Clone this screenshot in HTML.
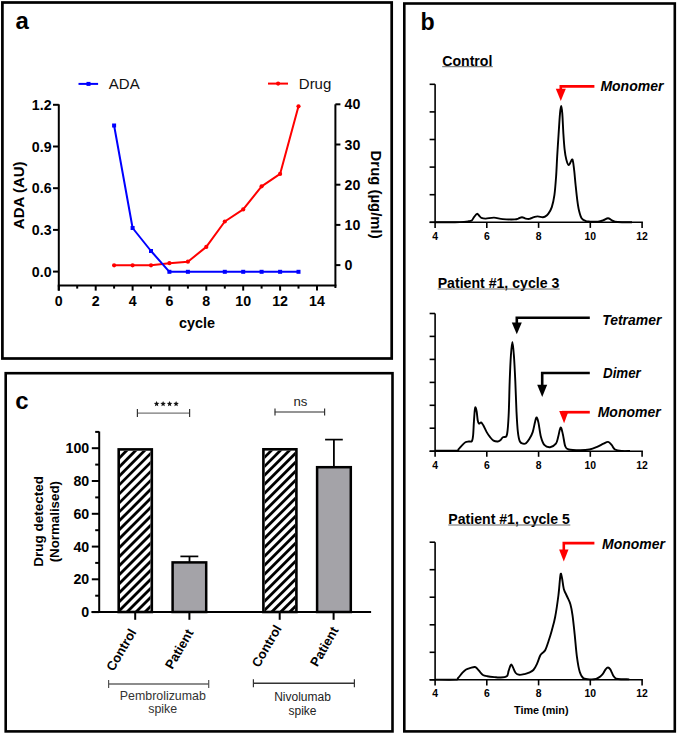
<!DOCTYPE html>
<html><head><meta charset="utf-8"><style>
html,body{margin:0;padding:0;background:#fff;}
svg{display:block;}
text{font-family:"Liberation Sans",sans-serif;}
</style></head><body>
<svg width="677" height="734" viewBox="0 0 677 734">
<rect width="677" height="734" fill="#fff"/>
<defs><clipPath id="clip1"><rect x="120.0" y="450.7" width="30.5" height="161.3"/></clipPath><clipPath id="clip2"><rect x="264.7" y="450.6" width="30.4" height="161.4"/></clipPath></defs>
<rect x="2.4" y="2.5" width="389.3" height="356" fill="none" stroke="#000" stroke-width="2.7"/>
<rect x="404.3" y="3.5" width="270.5" height="727.9" fill="none" stroke="#000" stroke-width="2.6"/>
<rect x="5.7" y="373.2" width="386.8" height="358.2" fill="none" stroke="#000" stroke-width="2.6"/>
<text x="15.6" y="29.3" font-size="24" font-weight="bold" font-family="Liberation Sans, sans-serif">a</text>
<text x="420.6" y="29.8" font-size="23.2" font-weight="bold" font-family="Liberation Sans, sans-serif">b</text>
<text x="15.2" y="408.6" font-size="24" font-weight="bold" font-family="Liberation Sans, sans-serif">c</text>
<line x1="58.8" y1="104.3" x2="58.8" y2="290.6" stroke="#000" stroke-width="2"/>
<line x1="53" y1="104.8" x2="58.8" y2="104.8" stroke="#000" stroke-width="2"/>
<text x="51.6" y="109.8" text-anchor="end" font-size="14.2" font-weight="bold" font-family="Liberation Sans, sans-serif">1.2</text>
<line x1="53" y1="146.5" x2="58.8" y2="146.5" stroke="#000" stroke-width="2"/>
<text x="51.6" y="151.5" text-anchor="end" font-size="14.2" font-weight="bold" font-family="Liberation Sans, sans-serif">0.9</text>
<line x1="53" y1="188.2" x2="58.8" y2="188.2" stroke="#000" stroke-width="2"/>
<text x="51.6" y="193.2" text-anchor="end" font-size="14.2" font-weight="bold" font-family="Liberation Sans, sans-serif">0.6</text>
<line x1="53" y1="229.9" x2="58.8" y2="229.9" stroke="#000" stroke-width="2"/>
<text x="51.6" y="234.9" text-anchor="end" font-size="14.2" font-weight="bold" font-family="Liberation Sans, sans-serif">0.3</text>
<line x1="53" y1="271.6" x2="58.8" y2="271.6" stroke="#000" stroke-width="2"/>
<text x="51.6" y="276.6" text-anchor="end" font-size="14.2" font-weight="bold" font-family="Liberation Sans, sans-serif">0.0</text>
<line x1="57.8" y1="285.4" x2="336.40000000000003" y2="285.4" stroke="#000" stroke-width="2"/>
<line x1="58.8" y1="285.4" x2="58.8" y2="290.6" stroke="#000" stroke-width="2"/>
<text x="58.8" y="306.0" text-anchor="middle" font-size="14.2" font-weight="bold" font-family="Liberation Sans, sans-serif">0</text>
<line x1="77.2" y1="285.4" x2="77.2" y2="288.6" stroke="#000" stroke-width="2"/>
<line x1="95.7" y1="285.4" x2="95.7" y2="290.6" stroke="#000" stroke-width="2"/>
<text x="95.7" y="306.0" text-anchor="middle" font-size="14.2" font-weight="bold" font-family="Liberation Sans, sans-serif">2</text>
<line x1="114.1" y1="285.4" x2="114.1" y2="288.6" stroke="#000" stroke-width="2"/>
<line x1="132.6" y1="285.4" x2="132.6" y2="290.6" stroke="#000" stroke-width="2"/>
<text x="132.6" y="306.0" text-anchor="middle" font-size="14.2" font-weight="bold" font-family="Liberation Sans, sans-serif">4</text>
<line x1="151.0" y1="285.4" x2="151.0" y2="288.6" stroke="#000" stroke-width="2"/>
<line x1="169.4" y1="285.4" x2="169.4" y2="290.6" stroke="#000" stroke-width="2"/>
<text x="169.4" y="306.0" text-anchor="middle" font-size="14.2" font-weight="bold" font-family="Liberation Sans, sans-serif">6</text>
<line x1="187.9" y1="285.4" x2="187.9" y2="288.6" stroke="#000" stroke-width="2"/>
<line x1="206.3" y1="285.4" x2="206.3" y2="290.6" stroke="#000" stroke-width="2"/>
<text x="206.3" y="306.0" text-anchor="middle" font-size="14.2" font-weight="bold" font-family="Liberation Sans, sans-serif">8</text>
<line x1="224.8" y1="285.4" x2="224.8" y2="288.6" stroke="#000" stroke-width="2"/>
<line x1="243.2" y1="285.4" x2="243.2" y2="290.6" stroke="#000" stroke-width="2"/>
<text x="243.2" y="306.0" text-anchor="middle" font-size="14.2" font-weight="bold" font-family="Liberation Sans, sans-serif">10</text>
<line x1="261.6" y1="285.4" x2="261.6" y2="288.6" stroke="#000" stroke-width="2"/>
<line x1="280.1" y1="285.4" x2="280.1" y2="290.6" stroke="#000" stroke-width="2"/>
<text x="280.1" y="306.0" text-anchor="middle" font-size="14.2" font-weight="bold" font-family="Liberation Sans, sans-serif">12</text>
<line x1="298.5" y1="285.4" x2="298.5" y2="288.6" stroke="#000" stroke-width="2"/>
<line x1="317.0" y1="285.4" x2="317.0" y2="290.6" stroke="#000" stroke-width="2"/>
<text x="317.0" y="306.0" text-anchor="middle" font-size="14.2" font-weight="bold" font-family="Liberation Sans, sans-serif">14</text>
<text x="196.9" y="328.4" text-anchor="middle" font-size="14.4" font-weight="bold" font-family="Liberation Sans, sans-serif">cycle</text>
<line x1="335.4" y1="104.3" x2="335.4" y2="288" stroke="#000" stroke-width="2"/>
<line x1="335.4" y1="104.3" x2="340.4" y2="104.3" stroke="#000" stroke-width="2"/>
<text x="344.6" y="109.3" font-size="14.2" font-weight="bold" font-family="Liberation Sans, sans-serif">40</text>
<line x1="335.4" y1="144.5" x2="340.4" y2="144.5" stroke="#000" stroke-width="2"/>
<text x="344.6" y="149.5" font-size="14.2" font-weight="bold" font-family="Liberation Sans, sans-serif">30</text>
<line x1="335.4" y1="184.7" x2="340.4" y2="184.7" stroke="#000" stroke-width="2"/>
<text x="344.6" y="189.7" font-size="14.2" font-weight="bold" font-family="Liberation Sans, sans-serif">20</text>
<line x1="335.4" y1="224.9" x2="340.4" y2="224.9" stroke="#000" stroke-width="2"/>
<text x="344.6" y="229.9" font-size="14.2" font-weight="bold" font-family="Liberation Sans, sans-serif">10</text>
<line x1="335.4" y1="265.1" x2="340.4" y2="265.1" stroke="#000" stroke-width="2"/>
<text x="344.6" y="270.1" font-size="14.2" font-weight="bold" font-family="Liberation Sans, sans-serif">0</text>
<text transform="translate(24.2,195.3) rotate(-90)" text-anchor="middle" font-size="15" font-weight="bold" font-family="Liberation Sans, sans-serif">ADA (AU)</text>
<text transform="translate(371,194.6) rotate(90)" text-anchor="middle" font-size="14.9" font-weight="bold" font-family="Liberation Sans, sans-serif">Drug (µg/ml)</text>
<line x1="78.5" y1="83.9" x2="98.1" y2="83.9" stroke="#0000ff" stroke-width="2"/>
<rect x="86.5" y="81.9" width="4" height="4" fill="#0000ff"/>
<text x="108.8" y="88.6" font-size="15" font-family="Liberation Sans, sans-serif" fill="#111">ADA</text>
<line x1="268" y1="83.6" x2="288" y2="83.6" stroke="#ff0000" stroke-width="2"/>
<circle cx="278.1" cy="83.6" r="2.1" fill="#ff0000"/>
<text x="298.8" y="88.6" font-size="15" font-family="Liberation Sans, sans-serif" fill="#111">Drug</text>
<polyline points="114.1,265.3 132.6,265.3 151.0,265.3 169.4,263.2 187.9,261.7 206.3,246.9 224.8,221.5 243.2,209.4 261.6,186.3 280.1,173.9 298.5,106.3" fill="none" stroke="#ff0000" stroke-width="2" stroke-linejoin="round"/>
<polyline points="114.1,125.5 132.6,228.0 151.0,251.0 169.4,271.8 187.9,271.8 206.3,271.8 224.8,271.8 243.2,271.8 261.6,271.8 280.1,271.8 298.5,271.8" fill="none" stroke="#0000ff" stroke-width="2" stroke-linejoin="round"/>
<circle cx="114.1" cy="265.3" r="2.1" fill="#ff0000"/>
<circle cx="132.6" cy="265.3" r="2.1" fill="#ff0000"/>
<circle cx="151.0" cy="265.3" r="2.1" fill="#ff0000"/>
<circle cx="169.4" cy="263.2" r="2.1" fill="#ff0000"/>
<circle cx="187.9" cy="261.7" r="2.1" fill="#ff0000"/>
<circle cx="206.3" cy="246.9" r="2.1" fill="#ff0000"/>
<circle cx="224.8" cy="221.5" r="2.1" fill="#ff0000"/>
<circle cx="243.2" cy="209.4" r="2.1" fill="#ff0000"/>
<circle cx="261.6" cy="186.3" r="2.1" fill="#ff0000"/>
<circle cx="280.1" cy="173.9" r="2.1" fill="#ff0000"/>
<circle cx="298.5" cy="106.3" r="2.1" fill="#ff0000"/>
<rect x="112.1" y="123.5" width="4" height="4" fill="#0000ff"/>
<rect x="130.6" y="226.0" width="4" height="4" fill="#0000ff"/>
<rect x="149.0" y="249.0" width="4" height="4" fill="#0000ff"/>
<rect x="167.4" y="269.8" width="4" height="4" fill="#0000ff"/>
<rect x="185.9" y="269.8" width="4" height="4" fill="#0000ff"/>
<rect x="222.8" y="269.8" width="4" height="4" fill="#0000ff"/>
<rect x="241.2" y="269.8" width="4" height="4" fill="#0000ff"/>
<rect x="259.6" y="269.8" width="4" height="4" fill="#0000ff"/>
<rect x="278.1" y="269.8" width="4" height="4" fill="#0000ff"/>
<rect x="296.5" y="269.8" width="4" height="4" fill="#0000ff"/>
<line x1="99.2" y1="431.5" x2="99.2" y2="612" stroke="#000" stroke-width="2"/>
<line x1="91.8" y1="612.1" x2="99.2" y2="612.1" stroke="#000" stroke-width="2"/>
<text x="89.2" y="617.1" text-anchor="end" font-size="14.2" font-weight="bold" font-family="Liberation Sans, sans-serif">0</text>
<line x1="95.2" y1="595.7" x2="99.2" y2="595.7" stroke="#000" stroke-width="2"/>
<line x1="91.8" y1="579.3" x2="99.2" y2="579.3" stroke="#000" stroke-width="2"/>
<text x="89.2" y="584.3" text-anchor="end" font-size="14.2" font-weight="bold" font-family="Liberation Sans, sans-serif">20</text>
<line x1="95.2" y1="562.9" x2="99.2" y2="562.9" stroke="#000" stroke-width="2"/>
<line x1="91.8" y1="546.6" x2="99.2" y2="546.6" stroke="#000" stroke-width="2"/>
<text x="89.2" y="551.6" text-anchor="end" font-size="14.2" font-weight="bold" font-family="Liberation Sans, sans-serif">40</text>
<line x1="95.2" y1="530.2" x2="99.2" y2="530.2" stroke="#000" stroke-width="2"/>
<line x1="91.8" y1="513.8" x2="99.2" y2="513.8" stroke="#000" stroke-width="2"/>
<text x="89.2" y="518.8" text-anchor="end" font-size="14.2" font-weight="bold" font-family="Liberation Sans, sans-serif">60</text>
<line x1="95.2" y1="497.4" x2="99.2" y2="497.4" stroke="#000" stroke-width="2"/>
<line x1="91.8" y1="481.0" x2="99.2" y2="481.0" stroke="#000" stroke-width="2"/>
<text x="89.2" y="486.0" text-anchor="end" font-size="14.2" font-weight="bold" font-family="Liberation Sans, sans-serif">80</text>
<line x1="95.2" y1="464.6" x2="99.2" y2="464.6" stroke="#000" stroke-width="2"/>
<line x1="91.8" y1="448.2" x2="99.2" y2="448.2" stroke="#000" stroke-width="2"/>
<text x="89.2" y="453.2" text-anchor="end" font-size="14.2" font-weight="bold" font-family="Liberation Sans, sans-serif">100</text>
<line x1="95.2" y1="431.9" x2="99.2" y2="431.9" stroke="#000" stroke-width="2"/>
<text transform="translate(43.2,521.4) rotate(-90)" text-anchor="middle" font-size="13.5" font-weight="bold" font-family="Liberation Sans, sans-serif">Drug detected</text>
<text transform="translate(59.2,521.7) rotate(-90)" text-anchor="middle" font-size="13.3" font-weight="bold" font-family="Liberation Sans, sans-serif">(Normalised)</text>
<g clip-path="url(#clip1)"><line x1="-159.70" y1="620" x2="30.30" y2="430" stroke="#000" stroke-width="2.8"/><line x1="-150.71" y1="620" x2="39.29" y2="430" stroke="#000" stroke-width="2.8"/><line x1="-141.72" y1="620" x2="48.28" y2="430" stroke="#000" stroke-width="2.8"/><line x1="-132.73" y1="620" x2="57.27" y2="430" stroke="#000" stroke-width="2.8"/><line x1="-123.74" y1="620" x2="66.26" y2="430" stroke="#000" stroke-width="2.8"/><line x1="-114.75" y1="620" x2="75.25" y2="430" stroke="#000" stroke-width="2.8"/><line x1="-105.76" y1="620" x2="84.24" y2="430" stroke="#000" stroke-width="2.8"/><line x1="-96.77" y1="620" x2="93.23" y2="430" stroke="#000" stroke-width="2.8"/><line x1="-87.78" y1="620" x2="102.22" y2="430" stroke="#000" stroke-width="2.8"/><line x1="-78.79" y1="620" x2="111.21" y2="430" stroke="#000" stroke-width="2.8"/><line x1="-69.80" y1="620" x2="120.20" y2="430" stroke="#000" stroke-width="2.8"/><line x1="-60.81" y1="620" x2="129.19" y2="430" stroke="#000" stroke-width="2.8"/><line x1="-51.82" y1="620" x2="138.18" y2="430" stroke="#000" stroke-width="2.8"/><line x1="-42.83" y1="620" x2="147.17" y2="430" stroke="#000" stroke-width="2.8"/><line x1="-33.84" y1="620" x2="156.16" y2="430" stroke="#000" stroke-width="2.8"/><line x1="-24.85" y1="620" x2="165.15" y2="430" stroke="#000" stroke-width="2.8"/><line x1="-15.86" y1="620" x2="174.14" y2="430" stroke="#000" stroke-width="2.8"/><line x1="-6.87" y1="620" x2="183.13" y2="430" stroke="#000" stroke-width="2.8"/><line x1="2.12" y1="620" x2="192.12" y2="430" stroke="#000" stroke-width="2.8"/><line x1="11.11" y1="620" x2="201.11" y2="430" stroke="#000" stroke-width="2.8"/><line x1="20.10" y1="620" x2="210.10" y2="430" stroke="#000" stroke-width="2.8"/><line x1="29.09" y1="620" x2="219.09" y2="430" stroke="#000" stroke-width="2.8"/><line x1="38.08" y1="620" x2="228.08" y2="430" stroke="#000" stroke-width="2.8"/><line x1="47.07" y1="620" x2="237.07" y2="430" stroke="#000" stroke-width="2.8"/><line x1="56.06" y1="620" x2="246.06" y2="430" stroke="#000" stroke-width="2.8"/><line x1="65.05" y1="620" x2="255.05" y2="430" stroke="#000" stroke-width="2.8"/><line x1="74.04" y1="620" x2="264.04" y2="430" stroke="#000" stroke-width="2.8"/><line x1="83.03" y1="620" x2="273.03" y2="430" stroke="#000" stroke-width="2.8"/><line x1="92.02" y1="620" x2="282.02" y2="430" stroke="#000" stroke-width="2.8"/><line x1="101.01" y1="620" x2="291.01" y2="430" stroke="#000" stroke-width="2.8"/><line x1="110.00" y1="620" x2="300.00" y2="430" stroke="#000" stroke-width="2.8"/><line x1="118.99" y1="620" x2="308.99" y2="430" stroke="#000" stroke-width="2.8"/><line x1="127.98" y1="620" x2="317.98" y2="430" stroke="#000" stroke-width="2.8"/><line x1="136.97" y1="620" x2="326.97" y2="430" stroke="#000" stroke-width="2.8"/><line x1="145.96" y1="620" x2="335.96" y2="430" stroke="#000" stroke-width="2.8"/><line x1="154.95" y1="620" x2="344.95" y2="430" stroke="#000" stroke-width="2.8"/></g><rect x="118.7" y="449.4" width="33.1" height="162.6" fill="none" stroke="#000" stroke-width="2.6"/>
<g clip-path="url(#clip2)"><line x1="-15.00" y1="620" x2="175.00" y2="430" stroke="#000" stroke-width="2.8"/><line x1="-6.01" y1="620" x2="183.99" y2="430" stroke="#000" stroke-width="2.8"/><line x1="2.98" y1="620" x2="192.98" y2="430" stroke="#000" stroke-width="2.8"/><line x1="11.97" y1="620" x2="201.97" y2="430" stroke="#000" stroke-width="2.8"/><line x1="20.96" y1="620" x2="210.96" y2="430" stroke="#000" stroke-width="2.8"/><line x1="29.95" y1="620" x2="219.95" y2="430" stroke="#000" stroke-width="2.8"/><line x1="38.94" y1="620" x2="228.94" y2="430" stroke="#000" stroke-width="2.8"/><line x1="47.93" y1="620" x2="237.93" y2="430" stroke="#000" stroke-width="2.8"/><line x1="56.92" y1="620" x2="246.92" y2="430" stroke="#000" stroke-width="2.8"/><line x1="65.91" y1="620" x2="255.91" y2="430" stroke="#000" stroke-width="2.8"/><line x1="74.90" y1="620" x2="264.90" y2="430" stroke="#000" stroke-width="2.8"/><line x1="83.89" y1="620" x2="273.89" y2="430" stroke="#000" stroke-width="2.8"/><line x1="92.88" y1="620" x2="282.88" y2="430" stroke="#000" stroke-width="2.8"/><line x1="101.87" y1="620" x2="291.87" y2="430" stroke="#000" stroke-width="2.8"/><line x1="110.86" y1="620" x2="300.86" y2="430" stroke="#000" stroke-width="2.8"/><line x1="119.85" y1="620" x2="309.85" y2="430" stroke="#000" stroke-width="2.8"/><line x1="128.84" y1="620" x2="318.84" y2="430" stroke="#000" stroke-width="2.8"/><line x1="137.83" y1="620" x2="327.83" y2="430" stroke="#000" stroke-width="2.8"/><line x1="146.82" y1="620" x2="336.82" y2="430" stroke="#000" stroke-width="2.8"/><line x1="155.81" y1="620" x2="345.81" y2="430" stroke="#000" stroke-width="2.8"/><line x1="164.80" y1="620" x2="354.80" y2="430" stroke="#000" stroke-width="2.8"/><line x1="173.79" y1="620" x2="363.79" y2="430" stroke="#000" stroke-width="2.8"/><line x1="182.78" y1="620" x2="372.78" y2="430" stroke="#000" stroke-width="2.8"/><line x1="191.77" y1="620" x2="381.77" y2="430" stroke="#000" stroke-width="2.8"/><line x1="200.76" y1="620" x2="390.76" y2="430" stroke="#000" stroke-width="2.8"/><line x1="209.75" y1="620" x2="399.75" y2="430" stroke="#000" stroke-width="2.8"/><line x1="218.74" y1="620" x2="408.74" y2="430" stroke="#000" stroke-width="2.8"/><line x1="227.73" y1="620" x2="417.73" y2="430" stroke="#000" stroke-width="2.8"/><line x1="236.72" y1="620" x2="426.72" y2="430" stroke="#000" stroke-width="2.8"/><line x1="245.71" y1="620" x2="435.71" y2="430" stroke="#000" stroke-width="2.8"/><line x1="254.70" y1="620" x2="444.70" y2="430" stroke="#000" stroke-width="2.8"/><line x1="263.69" y1="620" x2="453.69" y2="430" stroke="#000" stroke-width="2.8"/><line x1="272.68" y1="620" x2="462.68" y2="430" stroke="#000" stroke-width="2.8"/><line x1="281.67" y1="620" x2="471.67" y2="430" stroke="#000" stroke-width="2.8"/><line x1="290.66" y1="620" x2="480.66" y2="430" stroke="#000" stroke-width="2.8"/><line x1="299.65" y1="620" x2="489.65" y2="430" stroke="#000" stroke-width="2.8"/></g><rect x="263.4" y="449.3" width="33.0" height="162.7" fill="none" stroke="#000" stroke-width="2.6"/>
<line x1="189.5" y1="562" x2="189.5" y2="556.4" stroke="#000" stroke-width="1.8"/>
<line x1="180.4" y1="556.4" x2="198.3" y2="556.4" stroke="#000" stroke-width="1.7"/>
<line x1="333.9" y1="467" x2="333.9" y2="439.6" stroke="#000" stroke-width="1.8"/>
<line x1="325.1" y1="439.6" x2="342.8" y2="439.6" stroke="#000" stroke-width="1.7"/>
<rect x="172.6" y="562.4" width="33.6" height="49.6" fill="#a4a3a8" stroke="#000" stroke-width="2.5"/>
<rect x="317.1" y="467.2" width="33.7" height="144.8" fill="#a4a3a8" stroke="#000" stroke-width="2.5"/>
<line x1="91.5" y1="612" x2="371.1" y2="612" stroke="#000" stroke-width="2"/>
<line x1="135.2" y1="612" x2="135.2" y2="619.8" stroke="#000" stroke-width="2"/>
<line x1="189.4" y1="612" x2="189.4" y2="619.8" stroke="#000" stroke-width="2"/>
<line x1="279.7" y1="612" x2="279.7" y2="619.8" stroke="#000" stroke-width="2"/>
<line x1="333.6" y1="612" x2="333.6" y2="619.8" stroke="#000" stroke-width="2"/>
<text transform="translate(136.7,632.0) rotate(-60)" text-anchor="end" font-size="13" font-weight="bold" font-family="Liberation Sans, sans-serif">Control</text>
<text transform="translate(193.9,632.5) rotate(-60)" text-anchor="end" font-size="13" font-weight="bold" font-family="Liberation Sans, sans-serif">Patient</text>
<text transform="translate(282.0,628.3) rotate(-60)" text-anchor="end" font-size="13" font-weight="bold" font-family="Liberation Sans, sans-serif">Control</text>
<text transform="translate(339.0,630.0) rotate(-60)" text-anchor="end" font-size="13" font-weight="bold" font-family="Liberation Sans, sans-serif">Patient</text>
<line x1="137.2" y1="413.1" x2="189.8" y2="413.1" stroke="#777" stroke-width="1.4"/>
<line x1="137.4" y1="409" x2="137.4" y2="417" stroke="#333" stroke-width="1.2"/>
<line x1="189.6" y1="409" x2="189.6" y2="417" stroke="#333" stroke-width="1.2"/>
<polygon points="156.60,401.00 157.36,402.85 159.36,403.00 157.84,404.30 158.30,406.25 156.60,405.20 154.90,406.25 155.36,404.30 153.84,403.00 155.84,402.85" fill="#111"/>
<polygon points="163.10,401.00 163.86,402.85 165.86,403.00 164.34,404.30 164.80,406.25 163.10,405.20 161.40,406.25 161.86,404.30 160.34,403.00 162.34,402.85" fill="#111"/>
<polygon points="169.60,401.00 170.36,402.85 172.36,403.00 170.84,404.30 171.30,406.25 169.60,405.20 167.90,406.25 168.36,404.30 166.84,403.00 168.84,402.85" fill="#111"/>
<polygon points="176.10,401.00 176.86,402.85 178.86,403.00 177.34,404.30 177.80,406.25 176.10,405.20 174.40,406.25 174.86,404.30 173.34,403.00 175.34,402.85" fill="#111"/>
<line x1="274.8" y1="412" x2="324.8" y2="412" stroke="#2a2a2a" stroke-width="1.2"/>
<line x1="275" y1="408.4" x2="275" y2="415.6" stroke="#333" stroke-width="1.2"/>
<line x1="324.6" y1="408.4" x2="324.6" y2="415.6" stroke="#333" stroke-width="1.2"/>
<text x="293.5" y="406" font-size="13" textLength="13.9" lengthAdjust="spacingAndGlyphs" font-family="Liberation Sans, sans-serif" fill="#222">ns</text>
<line x1="108.4" y1="684" x2="208.9" y2="684" stroke="#666" stroke-width="1.4"/>
<line x1="108.6" y1="680" x2="108.6" y2="688" stroke="#555" stroke-width="1.2"/>
<line x1="208.7" y1="680" x2="208.7" y2="688" stroke="#555" stroke-width="1.2"/>
<text x="119.8" y="699.8" font-size="12.4" textLength="86" lengthAdjust="spacingAndGlyphs" font-family="Liberation Sans, sans-serif" fill="#333">Pembrolizumab</text>
<text x="162.7" y="713.0" text-anchor="middle" font-size="12.4" font-family="Liberation Sans, sans-serif" fill="#333">spike</text>
<line x1="253.2" y1="683.2" x2="354.6" y2="683.2" stroke="#333" stroke-width="1.4"/>
<line x1="253.4" y1="679.2" x2="253.4" y2="687.2" stroke="#333" stroke-width="1.2"/>
<line x1="354.4" y1="679.2" x2="354.4" y2="687.2" stroke="#333" stroke-width="1.2"/>
<text x="302.5" y="701.2" text-anchor="middle" font-size="12" font-family="Liberation Sans, sans-serif" fill="#222">Nivolumab</text>
<text x="302.5" y="714.7" text-anchor="middle" font-size="12" font-family="Liberation Sans, sans-serif" fill="#222">spike</text>
<line x1="435.1" y1="84.3" x2="435.1" y2="222.3" stroke="#000" stroke-width="1.6"/>
<line x1="429.6" y1="84.3" x2="435.1" y2="84.3" stroke="#000" stroke-width="1.6"/>
<line x1="429.6" y1="111.9" x2="435.1" y2="111.9" stroke="#000" stroke-width="1.6"/>
<line x1="429.6" y1="139.5" x2="435.1" y2="139.5" stroke="#000" stroke-width="1.6"/>
<line x1="429.6" y1="167.1" x2="435.1" y2="167.1" stroke="#000" stroke-width="1.6"/>
<line x1="429.6" y1="194.7" x2="435.1" y2="194.7" stroke="#000" stroke-width="1.6"/>
<line x1="429.6" y1="222.3" x2="435.1" y2="222.3" stroke="#000" stroke-width="1.6"/>
<line x1="429.6" y1="222.3" x2="642.9" y2="222.3" stroke="#000" stroke-width="1.6"/>
<line x1="435.1" y1="222.3" x2="435.1" y2="227.9" stroke="#000" stroke-width="1.6"/>
<text x="435.1" y="239.8" text-anchor="middle" font-size="10.4" font-weight="bold" font-family="Liberation Sans, sans-serif">4</text>
<line x1="486.8" y1="222.3" x2="486.8" y2="227.9" stroke="#000" stroke-width="1.6"/>
<text x="486.8" y="239.8" text-anchor="middle" font-size="10.4" font-weight="bold" font-family="Liberation Sans, sans-serif">6</text>
<line x1="538.6" y1="222.3" x2="538.6" y2="227.9" stroke="#000" stroke-width="1.6"/>
<text x="538.6" y="239.8" text-anchor="middle" font-size="10.4" font-weight="bold" font-family="Liberation Sans, sans-serif">8</text>
<line x1="590.3" y1="222.3" x2="590.3" y2="227.9" stroke="#000" stroke-width="1.6"/>
<text x="590.3" y="239.8" text-anchor="middle" font-size="10.4" font-weight="bold" font-family="Liberation Sans, sans-serif">10</text>
<line x1="642.1" y1="222.3" x2="642.1" y2="227.9" stroke="#000" stroke-width="1.6"/>
<text x="642.1" y="239.8" text-anchor="middle" font-size="10.4" font-weight="bold" font-family="Liberation Sans, sans-serif">12</text>
<text x="442.2" y="65.9" font-size="14" font-weight="bold" textLength="50.2" lengthAdjust="spacingAndGlyphs" font-family="Liberation Sans, sans-serif">Control</text><line x1="442.2" y1="66.7" x2="492.8" y2="66.7" stroke="#666" stroke-width="1"/>
<path d="M435.10,222.20 C438.42,222.20 450.18,222.25 455.00,222.20 C459.82,222.15 461.75,222.05 464.00,221.90 C466.25,221.75 467.20,221.55 468.50,221.30 C469.80,221.05 470.88,221.08 471.80,220.40 C472.72,219.72 473.13,218.30 474.00,217.20 C474.87,216.10 476.13,214.05 477.00,213.80 C477.87,213.55 478.47,215.02 479.20,215.70 C479.93,216.38 480.30,217.42 481.40,217.90 C482.50,218.38 483.70,218.65 485.80,218.60 C487.90,218.55 491.17,217.52 494.00,217.60 C496.83,217.68 499.35,218.80 502.80,219.10 C506.25,219.40 512.12,219.48 514.70,219.40 C517.28,219.32 517.08,218.97 518.30,218.60 C519.52,218.23 520.77,217.20 522.00,217.20 C523.23,217.20 524.47,218.32 525.70,218.60 C526.93,218.88 528.03,219.13 529.40,218.90 C530.77,218.67 532.55,217.62 533.90,217.20 C535.25,216.78 536.03,216.40 537.50,216.40 C538.97,216.40 541.45,217.17 542.70,217.20 C543.95,217.23 544.05,217.20 545.00,216.60 C545.95,216.00 547.27,215.18 548.40,213.60 C549.53,212.02 550.80,210.17 551.80,207.10 C552.80,204.03 553.68,200.30 554.40,195.20 C555.12,190.10 555.63,183.02 556.10,176.50 C556.57,169.98 556.78,163.18 557.20,156.10 C557.62,149.02 558.13,141.08 558.60,134.00 C559.07,126.92 559.57,118.27 560.00,113.60 C560.43,108.93 560.82,106.00 561.20,106.00 C561.58,106.00 561.93,108.93 562.30,113.60 C562.67,118.27 563.02,128.05 563.40,134.00 C563.78,139.95 564.12,145.05 564.60,149.30 C565.08,153.55 565.60,156.87 566.30,159.50 C567.00,162.13 567.87,165.10 568.80,165.10 C569.73,165.10 571.18,160.00 571.90,159.50 C572.62,159.00 572.70,160.12 573.10,162.10 C573.50,164.08 573.88,167.58 574.30,171.40 C574.72,175.22 575.10,180.18 575.60,185.00 C576.10,189.82 576.73,196.05 577.30,200.30 C577.87,204.55 578.28,207.52 579.00,210.50 C579.72,213.48 580.47,216.43 581.60,218.20 C582.73,219.97 584.38,220.53 585.80,221.10 C587.22,221.67 588.07,221.52 590.10,221.60 C592.13,221.68 595.85,221.80 598.00,221.60 C600.15,221.40 601.33,220.97 603.00,220.40 C604.67,219.83 606.58,218.23 608.00,218.20 C609.42,218.17 610.33,219.62 611.50,220.20 C612.67,220.78 613.25,221.37 615.00,221.70 C616.75,222.03 619.17,222.12 622.00,222.20 C624.83,222.28 630.33,222.20 632.00,222.20" fill="none" stroke="#000" stroke-width="1.9" stroke-linejoin="round"/>
<polyline points="594.4,86.4 560.8,86.4 560.8,89.2" fill="none" stroke="#ff0000" stroke-width="2.6"/><polygon points="555.8,88.7 565.8,88.7 560.8,101.0" fill="#ff0000"/>
<text x="600.4" y="90.7" font-size="14" font-weight="bold" font-style="italic" font-family="Liberation Sans, sans-serif">Monomer</text>
<line x1="435.1" y1="313.5" x2="435.1" y2="451.2" stroke="#000" stroke-width="1.6"/>
<line x1="429.6" y1="313.5" x2="435.1" y2="313.5" stroke="#000" stroke-width="1.6"/>
<line x1="429.6" y1="336.4" x2="435.1" y2="336.4" stroke="#000" stroke-width="1.6"/>
<line x1="429.6" y1="359.4" x2="435.1" y2="359.4" stroke="#000" stroke-width="1.6"/>
<line x1="429.6" y1="382.4" x2="435.1" y2="382.4" stroke="#000" stroke-width="1.6"/>
<line x1="429.6" y1="405.3" x2="435.1" y2="405.3" stroke="#000" stroke-width="1.6"/>
<line x1="429.6" y1="428.2" x2="435.1" y2="428.2" stroke="#000" stroke-width="1.6"/>
<line x1="429.6" y1="451.2" x2="435.1" y2="451.2" stroke="#000" stroke-width="1.6"/>
<line x1="429.6" y1="451.2" x2="642.9" y2="451.2" stroke="#000" stroke-width="1.6"/>
<line x1="435.1" y1="451.2" x2="435.1" y2="456.8" stroke="#000" stroke-width="1.6"/>
<text x="435.1" y="468.6" text-anchor="middle" font-size="10.4" font-weight="bold" font-family="Liberation Sans, sans-serif">4</text>
<line x1="486.8" y1="451.2" x2="486.8" y2="456.8" stroke="#000" stroke-width="1.6"/>
<text x="486.8" y="468.6" text-anchor="middle" font-size="10.4" font-weight="bold" font-family="Liberation Sans, sans-serif">6</text>
<line x1="538.6" y1="451.2" x2="538.6" y2="456.8" stroke="#000" stroke-width="1.6"/>
<text x="538.6" y="468.6" text-anchor="middle" font-size="10.4" font-weight="bold" font-family="Liberation Sans, sans-serif">8</text>
<line x1="590.3" y1="451.2" x2="590.3" y2="456.8" stroke="#000" stroke-width="1.6"/>
<text x="590.3" y="468.6" text-anchor="middle" font-size="10.4" font-weight="bold" font-family="Liberation Sans, sans-serif">10</text>
<line x1="642.1" y1="451.2" x2="642.1" y2="456.8" stroke="#000" stroke-width="1.6"/>
<text x="642.1" y="468.6" text-anchor="middle" font-size="10.4" font-weight="bold" font-family="Liberation Sans, sans-serif">12</text>
<text x="437.7" y="288.2" font-size="14" font-weight="bold" textLength="121.6" lengthAdjust="spacingAndGlyphs" font-family="Liberation Sans, sans-serif">Patient #1, cycle 3</text><line x1="437.7" y1="289.0" x2="559.7" y2="289.0" stroke="#666" stroke-width="1"/>
<path d="M435.10,450.80 C438.60,450.77 452.18,450.88 456.10,450.60 C460.02,450.32 457.62,449.97 458.60,449.10 C459.58,448.23 460.87,446.53 462.00,445.40 C463.13,444.27 464.27,442.95 465.40,442.30 C466.53,441.65 467.72,441.70 468.80,441.50 C469.88,441.30 471.18,442.10 471.90,441.10 C472.62,440.10 472.77,438.70 473.10,435.50 C473.43,432.30 473.62,426.15 473.90,421.90 C474.18,417.65 474.52,412.42 474.80,410.00 C475.08,407.58 475.28,407.12 475.60,407.40 C475.92,407.68 476.35,409.57 476.70,411.70 C477.05,413.83 477.32,418.22 477.70,420.20 C478.08,422.18 478.43,423.23 479.00,423.60 C479.57,423.97 480.38,422.12 481.10,422.40 C481.82,422.68 482.37,423.68 483.30,425.30 C484.23,426.92 485.57,430.12 486.70,432.10 C487.83,434.08 488.97,435.78 490.10,437.20 C491.23,438.62 492.22,439.88 493.50,440.60 C494.78,441.32 496.67,441.55 497.80,441.50 C498.93,441.45 499.45,441.02 500.30,440.30 C501.15,439.58 501.90,437.85 502.90,437.20 C503.90,436.55 505.52,437.53 506.30,436.40 C507.08,435.27 507.18,434.52 507.60,430.40 C508.02,426.28 508.45,419.92 508.80,411.70 C509.15,403.48 509.35,390.47 509.70,381.10 C510.05,371.73 510.45,362.03 510.90,355.50 C511.35,348.97 511.90,341.90 512.40,341.90 C512.90,341.90 513.42,348.97 513.90,355.50 C514.38,362.03 514.87,371.73 515.30,381.10 C515.73,390.47 516.07,403.20 516.50,411.70 C516.93,420.20 517.33,427.13 517.90,432.10 C518.47,437.07 519.00,439.57 519.90,441.50 C520.80,443.43 522.28,443.42 523.30,443.70 C524.32,443.98 525.00,443.97 526.00,443.20 C527.00,442.43 528.18,440.95 529.30,439.10 C530.42,437.25 531.73,435.00 532.70,432.10 C533.67,429.20 534.43,424.13 535.10,421.70 C535.77,419.27 536.13,417.30 536.70,417.50 C537.27,417.70 537.80,419.68 538.50,422.90 C539.20,426.12 539.93,433.13 540.90,436.80 C541.87,440.47 542.77,443.17 544.30,444.90 C545.83,446.63 548.17,447.40 550.10,447.20 C552.03,447.00 554.55,445.43 555.90,443.70 C557.25,441.97 557.42,439.50 558.20,436.80 C558.98,434.10 559.82,427.90 560.60,427.50 C561.38,427.10 562.13,431.32 562.90,434.40 C563.67,437.48 564.23,443.48 565.20,446.00 C566.17,448.52 566.18,448.80 568.70,449.50 C571.22,450.20 576.83,450.20 580.30,450.20 C583.77,450.20 586.80,450.00 589.50,449.50 C592.20,449.00 594.17,448.17 596.50,447.20 C598.83,446.23 601.57,444.58 603.50,443.70 C605.43,442.82 606.75,441.70 608.10,441.90 C609.45,442.10 610.45,443.63 611.60,444.90 C612.75,446.17 613.27,448.48 615.00,449.50 C616.73,450.52 619.50,450.75 622.00,451.00 C624.50,451.25 628.67,451.00 630.00,451.00" fill="none" stroke="#000" stroke-width="1.9" stroke-linejoin="round"/>
<polyline points="589.8,317.8 516.8,317.8 516.8,322.9" fill="none" stroke="#000" stroke-width="2.6"/><polygon points="511.8,322.4 521.8,322.4 516.8,334.2" fill="#000"/>
<text x="602.2" y="324.6" font-size="14" font-weight="bold" font-style="italic" textLength="59.2" lengthAdjust="spacingAndGlyphs" font-family="Liberation Sans, sans-serif">Tetramer</text>
<polyline points="589.8,373.0 542.2,373.0 542.2,385.3" fill="none" stroke="#000" stroke-width="2.6"/><polygon points="537.2,384.8 547.2,384.8 542.2,397.0" fill="#000"/>
<text x="603" y="377.7" font-size="14" font-weight="bold" font-style="italic" textLength="37.8" lengthAdjust="spacingAndGlyphs" font-family="Liberation Sans, sans-serif">Dimer</text>
<line x1="589.8" y1="412.2" x2="562" y2="412.2" stroke="#ff0000" stroke-width="2.7"/>
<polygon points="559.2,410.9 568.6,410.9 564.1,423.3" fill="#ff0000"/>
<text x="597.7" y="417.1" font-size="14" font-weight="bold" font-style="italic" font-family="Liberation Sans, sans-serif">Monomer</text>
<line x1="435.1" y1="542.2" x2="435.1" y2="679.8" stroke="#000" stroke-width="1.6"/>
<line x1="429.6" y1="542.2" x2="435.1" y2="542.2" stroke="#000" stroke-width="1.6"/>
<line x1="429.6" y1="569.7" x2="435.1" y2="569.7" stroke="#000" stroke-width="1.6"/>
<line x1="429.6" y1="597.2" x2="435.1" y2="597.2" stroke="#000" stroke-width="1.6"/>
<line x1="429.6" y1="624.8" x2="435.1" y2="624.8" stroke="#000" stroke-width="1.6"/>
<line x1="429.6" y1="652.3" x2="435.1" y2="652.3" stroke="#000" stroke-width="1.6"/>
<line x1="429.6" y1="679.8" x2="435.1" y2="679.8" stroke="#000" stroke-width="1.6"/>
<line x1="429.6" y1="679.8" x2="642.9" y2="679.8" stroke="#000" stroke-width="1.6"/>
<line x1="435.1" y1="679.8" x2="435.1" y2="685.4" stroke="#000" stroke-width="1.6"/>
<text x="435.1" y="697.2" text-anchor="middle" font-size="10.4" font-weight="bold" font-family="Liberation Sans, sans-serif">4</text>
<line x1="486.8" y1="679.8" x2="486.8" y2="685.4" stroke="#000" stroke-width="1.6"/>
<text x="486.8" y="697.2" text-anchor="middle" font-size="10.4" font-weight="bold" font-family="Liberation Sans, sans-serif">6</text>
<line x1="538.6" y1="679.8" x2="538.6" y2="685.4" stroke="#000" stroke-width="1.6"/>
<text x="538.6" y="697.2" text-anchor="middle" font-size="10.4" font-weight="bold" font-family="Liberation Sans, sans-serif">8</text>
<line x1="590.3" y1="679.8" x2="590.3" y2="685.4" stroke="#000" stroke-width="1.6"/>
<text x="590.3" y="697.2" text-anchor="middle" font-size="10.4" font-weight="bold" font-family="Liberation Sans, sans-serif">10</text>
<line x1="642.1" y1="679.8" x2="642.1" y2="685.4" stroke="#000" stroke-width="1.6"/>
<text x="642.1" y="697.2" text-anchor="middle" font-size="10.4" font-weight="bold" font-family="Liberation Sans, sans-serif">12</text>
<text x="448.3" y="524.2" font-size="14" font-weight="bold" textLength="121.6" lengthAdjust="spacingAndGlyphs" font-family="Liberation Sans, sans-serif">Patient #1, cycle 5</text><line x1="448.3" y1="525.0" x2="570.3" y2="525.0" stroke="#666" stroke-width="1"/>
<path d="M435.10,679.60 C438.48,679.60 451.57,679.87 455.40,679.60 C459.23,679.33 456.92,679.15 458.10,678.00 C459.28,676.85 461.17,674.12 462.50,672.70 C463.83,671.28 464.77,670.30 466.10,669.50 C467.43,668.70 469.03,668.32 470.50,667.90 C471.97,667.48 473.72,666.80 474.90,667.00 C476.08,667.20 476.70,668.22 477.60,669.10 C478.50,669.98 479.42,671.32 480.30,672.30 C481.18,673.28 481.72,674.35 482.90,675.00 C484.08,675.65 485.48,675.85 487.40,676.20 C489.32,676.55 492.33,676.88 494.40,677.10 C496.47,677.32 497.73,677.65 499.80,677.50 C501.87,677.35 505.33,677.30 506.80,676.20 C508.27,675.10 508.00,672.67 508.60,670.90 C509.20,669.13 509.90,666.63 510.40,665.60 C510.90,664.57 511.17,664.40 511.60,664.70 C512.03,665.00 512.32,666.02 513.00,667.40 C513.68,668.78 514.65,671.77 515.70,673.00 C516.75,674.23 517.82,674.62 519.30,674.80 C520.78,674.98 522.98,674.45 524.60,674.10 C526.22,673.75 527.53,673.38 529.00,672.70 C530.47,672.02 532.07,671.48 533.40,670.00 C534.73,668.52 535.90,666.13 537.00,663.80 C538.10,661.47 539.17,657.75 540.00,656.00 C540.83,654.25 541.12,654.30 542.00,653.30 C542.88,652.30 544.22,652.00 545.30,650.00 C546.38,648.00 547.42,644.57 548.50,641.30 C549.58,638.03 550.70,634.40 551.80,630.40 C552.90,626.40 554.00,623.12 555.10,617.30 C556.20,611.48 557.50,602.60 558.40,595.50 C559.30,588.40 559.90,577.62 560.50,574.70 C561.10,571.78 561.45,575.63 562.00,578.00 C562.55,580.37 562.95,585.82 563.80,588.90 C564.65,591.98 566.00,593.95 567.10,596.50 C568.20,599.05 569.50,601.10 570.40,604.20 C571.30,607.30 571.78,610.02 572.50,615.10 C573.22,620.18 573.97,627.78 574.70,634.70 C575.43,641.62 576.07,650.42 576.90,656.60 C577.73,662.78 578.60,668.17 579.70,671.80 C580.80,675.43 581.60,677.13 583.50,678.40 C585.40,679.67 589.02,679.32 591.10,679.40 C593.18,679.48 594.68,679.23 596.00,678.90 C597.32,678.57 598.08,677.98 599.00,677.40 C599.92,676.82 600.73,676.18 601.50,675.40 C602.27,674.62 602.92,673.72 603.60,672.70 C604.28,671.68 604.87,670.17 605.60,669.30 C606.33,668.43 607.22,667.48 608.00,667.50 C608.78,667.52 609.65,668.53 610.30,669.40 C610.95,670.27 611.37,671.60 611.90,672.70 C612.43,673.80 612.90,675.07 613.50,676.00 C614.10,676.93 614.75,677.80 615.50,678.30 C616.25,678.80 615.70,678.82 618.00,679.00 C620.30,679.18 627.42,679.33 629.30,679.40" fill="none" stroke="#000" stroke-width="1.9" stroke-linejoin="round"/>
<polyline points="594.4,543.1 563.8,543.1 563.8,550.1" fill="none" stroke="#ff0000" stroke-width="2.6"/><polygon points="559.1,549.6 568.5,549.6 563.8,561.6" fill="#ff0000"/>
<text x="602" y="548.5" font-size="14" font-weight="bold" font-style="italic" font-family="Liberation Sans, sans-serif">Monomer</text>
<text x="541.3" y="713.7" text-anchor="middle" font-size="10.8" font-weight="bold" font-family="Liberation Sans, sans-serif">Time (min)</text>
</svg>
</body></html>
